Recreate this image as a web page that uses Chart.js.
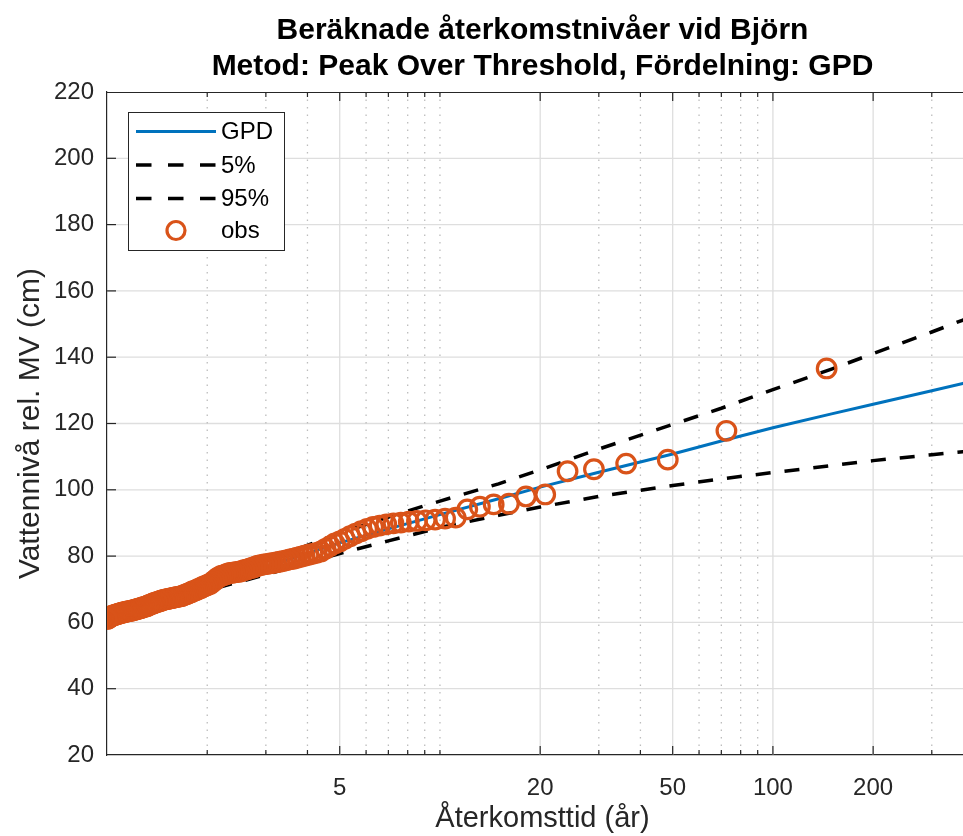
<!DOCTYPE html>
<html><head><meta charset="utf-8">
<script src="https://cdn.jsdelivr.net/npm/chart.js@4.4.1/dist/chart.umd.min.js"></script>
<style>html,body{margin:0;padding:0;background:#fff;overflow:hidden;}canvas{display:block;}</style>
</head><body>
<canvas id="c" width="963" height="836" style="width:963px;height:836px"></canvas>
<script>
const titleLines = ['Beräknade återkomstnivåer vid Björn', 'Metod: Peak Over Threshold, Fördelning: GPD'];
const xAxisTitle = 'Återkomsttid (år)';
const yAxisTitle = 'Vattennivå rel. MV (cm)';
const legendLabels = ['GPD', '5%', '95%', 'obs'];

const xMajorTicks = [5, 20, 50, 100, 200];
const xMinorTicks = [2, 3, 4, 6, 7, 8, 9, 10, 30, 40, 60, 70, 80, 90, 300, 400];
const yTicks = [20, 40, 60, 80, 100, 120, 140, 160, 180, 200, 220];

// return periods (years) for the fitted curves
const curveT   = [1, 1.5, 2, 3, 5, 7, 10, 15, 20, 30, 50, 70, 100, 150, 200, 300, 372, 413];
const gpdLevel = [60.8, 66.7, 71.0, 76.8, 84.0, 88.2, 92.5, 97.3, 100.8, 105.3, 110.8, 114.7, 118.7, 122.9, 125.8, 129.9, 132.1, 133.2];
const lower5   = [59.6, 65.2, 69.6, 74.4, 80.8, 84.6, 88.6, 92.3, 94.8, 98.0, 101.3, 103.3, 105.2, 107.3, 108.8, 110.6, 111.5, 112.0];
const upper95  = [62.0, 67.9, 72.4, 78.6, 86.9, 91.8, 96.6, 101.8, 106.0, 112.3, 119.7, 124.6, 130.2, 136.4, 141.1, 147.6, 151.2, 153.2];

// observations: return period and level
const obsT = [145, 72.5, 48.33, 36.25, 29.0, 24.17, 20.71, 18.13, 16.11, 14.5,
  13.18, 12.08, 11.15, 10.36, 9.67, 9.06, 8.53, 8.06, 7.63, 7.25,
  6.9, 6.59, 6.3, 6.04, 5.8, 5.58, 5.37, 5.18, 5.0, 4.83,
  4.68, 4.53, 4.39, 4.26, 4.14, 4.03, 3.92, 3.82, 3.72, 3.63,
  3.54, 3.45, 3.37, 3.30, 3.22, 3.15, 3.09, 3.02, 2.96, 2.90,
  2.84, 2.79, 2.74, 2.69, 2.64, 2.59, 2.54, 2.50, 2.46, 2.42,
  2.38, 2.34, 2.30, 2.27, 2.23, 2.20, 2.16, 2.13, 2.10, 2.07,
  2.04, 2.01, 1.99, 1.96, 1.93, 1.91, 1.88, 1.86, 1.84, 1.81,
  1.79, 1.77, 1.75, 1.73, 1.71, 1.69, 1.67, 1.65, 1.63, 1.61,
  1.59, 1.58, 1.56, 1.54, 1.53, 1.51, 1.49, 1.48, 1.46, 1.45,
  1.44, 1.42, 1.41, 1.39, 1.38, 1.37, 1.36, 1.34, 1.33, 1.32,
  1.31, 1.29, 1.28, 1.27, 1.26, 1.25, 1.24, 1.23, 1.22, 1.21,
  1.20, 1.19, 1.18, 1.17, 1.16, 1.15, 1.14, 1.13, 1.12, 1.115,
  1.107, 1.098, 1.090, 1.082, 1.074, 1.066, 1.058, 1.051, 1.043, 1.036,
  1.028, 1.021, 1.014, 1.007, 1.0];
const obsLevel = [136.6, 117.8, 109.1, 107.9, 106.2, 105.6, 98.6, 98.0, 95.8, 95.6,
  94.9, 94.1, 91.6, 91.3, 91.0, 90.8, 90.6, 90.4, 90.1, 89.9,
  89.6, 89.2, 88.8, 88.2, 87.5, 86.8, 86.0, 85.2, 84.4, 83.8,
  83.0, 82.2, 81.4, 81.0, 80.7, 80.4, 80.1, 79.8, 79.5, 79.2,
  79.0, 78.7, 78.5, 78.3, 78.1, 77.9, 77.8, 77.6, 77.5, 77.3,
  77.1, 76.8, 76.5, 76.3, 76.0, 75.8, 75.5, 75.3, 75.2, 75.1,
  75.0, 74.9, 74.7, 74.4, 74.2, 74.0, 73.6, 73.1, 72.6, 72.1,
  71.6, 71.4, 71.1, 70.9, 70.6, 70.3, 70.1, 69.8, 69.6, 69.4,
  69.1, 68.9, 68.7, 68.5, 68.3, 68.1, 67.9, 67.8, 67.7, 67.6,
  67.5, 67.4, 67.3, 67.2, 67.1, 67.0, 66.9, 66.8, 66.6, 66.5,
  66.4, 66.2, 66.1, 65.9, 65.8, 65.6, 65.5, 65.3, 65.1, 64.9,
  64.8, 64.7, 64.5, 64.4, 64.3, 64.2, 64.1, 64.0, 63.9, 63.8,
  63.7, 63.6, 63.5, 63.4, 63.4, 63.3, 63.2, 63.1, 63.0, 63.0,
  62.9, 62.8, 62.7, 62.6, 62.5, 62.4, 62.3, 62.2, 62.1, 62.0,
  61.8, 61.6, 61.4, 61.2, 61.0];

const FONT = "'Liberation Sans', Arial, Helvetica, sans-serif";
const AXIS_COLOR = '#262626';
const BLUE = '#0072BD';
const ORANGE = '#D95319';
const DASH = [15, 14];
const AXES_RIGHT = 978; // axes box continues past the visible edge of the figure

const pts = (xs, ys) => xs.map((x, i) => ({x: x, y: ys[i]}));

const decor = {
  id: 'decor',
  afterLayout(chart) {
    const ca = chart.chartArea;
    ca.right = AXES_RIGHT; ca.width = AXES_RIGHT - ca.left;
    const x = chart.scales.x;
    x.right = AXES_RIGHT; x.width = AXES_RIGHT - x.left;
    x.configure();
    const tb = chart.titleBlock;
    if (tb) { tb.left = ca.left; tb.right = AXES_RIGHT; tb.width = AXES_RIGHT - ca.left; }
  },
  beforeDatasetsDraw(chart) {
    const {ctx, chartArea: a, scales: {x, y}} = chart;
    ctx.save();
    ctx.beginPath(); ctx.rect(a.left, a.top, a.right - a.left, a.bottom - a.top); ctx.clip();
    const line = (x1, y1, x2, y2) => { ctx.beginPath(); ctx.moveTo(x1, y1); ctx.lineTo(x2, y2); ctx.stroke(); };
    ctx.strokeStyle = '#dedede'; ctx.lineWidth = 1.3;
    yTicks.slice(1, -1).forEach(v => { const py = y.getPixelForValue(v); line(a.left, py, a.right, py); });
    xMajorTicks.forEach(v => { const px = x.getPixelForValue(v); line(px, a.top, px, a.bottom); });
    ctx.setLineDash([1.5, 6]); ctx.strokeStyle = '#bdbdbd'; ctx.lineWidth = 1.3;
    xMinorTicks.forEach(v => { const px = x.getPixelForValue(v); line(px, a.top, px, a.bottom); });
    ctx.setLineDash([]);
    // tick marks (inward)
    ctx.strokeStyle = AXIS_COLOR; ctx.lineWidth = 1.2;
    yTicks.forEach(v => { const py = y.getPixelForValue(v); line(a.left, py, a.left + 9, py); });
    xMajorTicks.forEach(v => { const px = x.getPixelForValue(v); line(px, a.bottom, px, a.bottom - 9); line(px, a.top, px, a.top + 9); });
    xMinorTicks.forEach(v => { const px = x.getPixelForValue(v); line(px, a.bottom, px, a.bottom - 5); line(px, a.top, px, a.top + 5); });
    ctx.restore();
  },
  afterDraw(chart) {
    const {ctx, chartArea: a} = chart;
    ctx.save();
    // top border
    ctx.strokeStyle = AXIS_COLOR; ctx.lineWidth = 1.2;
    ctx.beginPath(); ctx.moveTo(a.left, a.top + 0.5); ctx.lineTo(a.right, a.top + 0.5); ctx.stroke();
    // legend
    const bx = 128.5, by = 112.5, bw = 156, bh = 138;
    ctx.fillStyle = '#fff'; ctx.fillRect(bx, by, bw, bh);
    ctx.strokeStyle = AXIS_COLOR; ctx.lineWidth = 1; ctx.strokeRect(bx, by, bw, bh);
    const rows = [131.5, 165, 198.5, 230.5];
    const x1 = 136, x2 = 216, tx = 221;
    ctx.lineWidth = 3; ctx.strokeStyle = BLUE;
    ctx.beginPath(); ctx.moveTo(x1, rows[0]); ctx.lineTo(x2, rows[0]); ctx.stroke();
    ctx.strokeStyle = '#000'; ctx.lineWidth = 3.5; ctx.setLineDash([15.5, 16.5]);
    [1, 2].forEach(r => { ctx.beginPath(); ctx.moveTo(x1, rows[r]); ctx.lineTo(x2 + 1, rows[r]); ctx.stroke(); });
    ctx.setLineDash([]);
    ctx.strokeStyle = ORANGE; ctx.lineWidth = 3.2;
    ctx.beginPath(); ctx.arc(176, rows[3], 9, 0, Math.PI * 2); ctx.stroke();
    ctx.fillStyle = '#000'; ctx.font = '24px ' + FONT; ctx.textBaseline = 'middle'; ctx.textAlign = 'left';
    legendLabels.forEach((t, i) => ctx.fillText(t, tx, rows[i] + 1));
    ctx.restore();
  }
};

const zeroPad = s => { s.paddingLeft = 0; s.paddingRight = 0; };

new Chart(document.getElementById('c'), {
  type: 'scatter',
  data: {
    datasets: [
      {label: legendLabels[3], data: pts(obsT, obsLevel), showLine: false, pointStyle: 'circle',
       pointRadius: 9.3, pointBorderWidth: 3.2, pointBorderColor: ORANGE, pointBackgroundColor: 'rgba(0,0,0,0)',
       borderColor: ORANGE, backgroundColor: 'rgba(0,0,0,0)', order: 0},
      {label: legendLabels[2], data: pts(curveT, upper95), showLine: true, borderColor: '#000', borderWidth: 3.5,
       borderDash: DASH, pointRadius: 0, tension: 0, order: 1},
      {label: legendLabels[1], data: pts(curveT, lower5), showLine: true, borderColor: '#000', borderWidth: 3.5,
       borderDash: DASH, pointRadius: 0, tension: 0, order: 2},
      {label: legendLabels[0], data: pts(curveT, gpdLevel), showLine: true, borderColor: BLUE, borderWidth: 3,
       pointRadius: 0, tension: 0, order: 3}
    ]
  },
  options: {
    responsive: false, animation: false, devicePixelRatio: 1,
    layout: {padding: {left: 0, right: 0, top: 0, bottom: 0}},
    plugins: {
      legend: {display: false}, tooltip: {enabled: false},
      title: {display: true, fullSize: false, text: titleLines, color: '#000',
        font: {family: FONT, size: 30, weight: 'bold', lineHeight: 1.2}, padding: {top: 13, bottom: 7}}
    },
    scales: {
      x: {
        type: 'logarithmic', min: 1, max: 413,
        afterBuildTicks: s => { s.ticks = xMajorTicks.concat(xMinorTicks).sort((a, b) => a - b).map(v => ({value: v})); },
        afterFit: s => { s.height = 81; zeroPad(s); },
        ticks: {autoSkip: false, maxRotation: 0, minRotation: 0, padding: 19, color: AXIS_COLOR,
          font: {family: FONT, size: 24}, callback: v => xMajorTicks.includes(v) ? String(v) : ''},
        grid: {display: false, drawTicks: false},
        border: {display: true, color: AXIS_COLOR, width: 1.2},
        title: {display: true, text: xAxisTitle, color: AXIS_COLOR, font: {family: FONT, size: 29}, padding: {top: 0, bottom: 0}}
      },
      y: {
        min: 20, max: 220,
        afterBuildTicks: s => { s.ticks = yTicks.map(v => ({value: v})); },
        afterFit: s => { s.width = 107; },
        ticks: {padding: 13, color: AXIS_COLOR, font: {family: FONT, size: 24}},
        grid: {display: false, drawTicks: false},
        border: {display: true, color: AXIS_COLOR, width: 1.2},
        title: {display: true, text: yAxisTitle, color: AXIS_COLOR, font: {family: FONT, size: 30}, padding: {top: 13, bottom: 0}}
      }
    }
  },
  plugins: [decor]
});
</script>
</body></html>
